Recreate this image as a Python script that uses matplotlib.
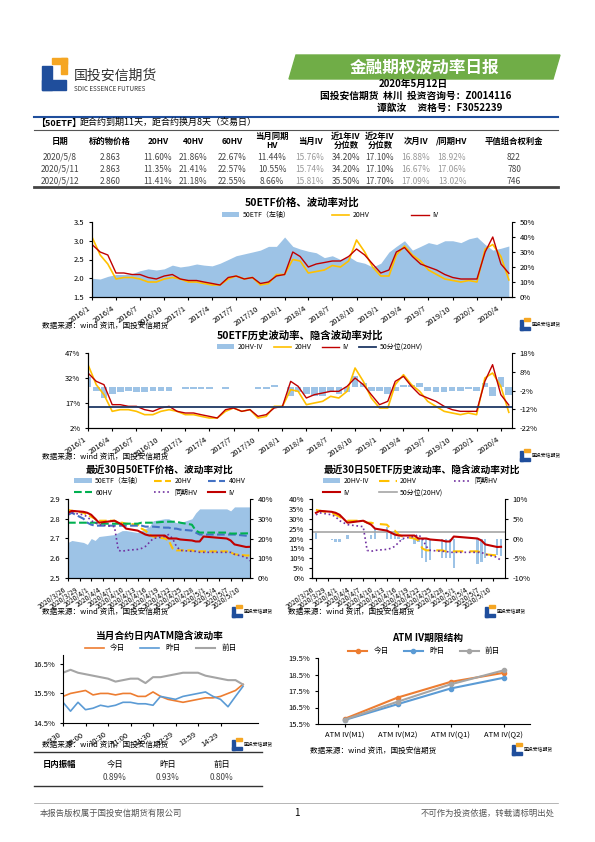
import matplotlib
matplotlib.use("Agg")
import matplotlib.pyplot as plt
from matplotlib.patches import Polygon, Rectangle
import numpy as np
import pandas as pd

plt.rcParams['font.family'] = ['Noto Sans CJK SC', 'DejaVu Sans']
plt.rcParams['axes.unicode_minus'] = False

# ---------------- data ----------------
months = pd.date_range("2016-01-01", "2020-05-01", freq="MS")
etf_price = [2.0,1.98,2.05,2.1,2.1,2.12,2.2,2.25,2.22,2.25,2.35,2.30,
             2.33,2.38,2.35,2.33,2.4,2.5,2.6,2.65,2.7,2.75,2.85,2.85,
             3.1,2.85,2.78,2.72,2.68,2.55,2.6,2.5,2.58,2.45,2.4,2.3,
             2.4,2.7,2.85,3.0,2.75,2.85,2.95,2.9,3.0,3.0,2.95,3.05,
             3.1,2.9,2.75,2.8,2.86]
hv20_long = [40,28,22,12,13,13,12,10,10,12,13,12,
             10,10,9,8,8,12,14,12,13,8,9,15,
             15,25,24,16,17,18,21,20,24,38,30,20,
             14,14,28,34,28,24,18,15,12,11,10,11,
             10,32,35,27,11.4]
iv_long = [35,30,28,16,16,15,15,13,12,14,15,12,
           11,11,10,9,8,13,14,12,13,9,10,14,
           15,30,27,20,22,23,24,24,27,32,28,22,
           16,18,30,33,27,22,20,18,15,13,12,12,
           12,30,40,22,15.8]
hv20_p50 = 14.8

days = pd.to_datetime(["2020-03-26","2020-03-27","2020-03-30","2020-03-31","2020-04-01","2020-04-02",
        "2020-04-03","2020-04-07","2020-04-08","2020-04-09","2020-04-10","2020-04-13","2020-04-14",
        "2020-04-15","2020-04-16","2020-04-17","2020-04-20","2020-04-21","2020-04-22","2020-04-23",
        "2020-04-24","2020-04-27","2020-04-28","2020-04-29","2020-04-30","2020-05-06","2020-05-07",
        "2020-05-08","2020-05-11","2020-05-12"])
price30 = [2.68,2.69,2.68,2.67,2.70,2.69,2.71,2.72,2.73,2.74,2.74,2.73,2.74,2.75,2.76,2.79,2.80,2.80,
           2.79,2.78,2.78,2.80,2.83,2.85,2.85,2.85,2.84,2.86,2.86,2.86]
iv30 = [33,34,33.5,33,32,30,28,29,28,27,25,24,23,22,21.5,21.5,21.5,20,20,20,19.5,19,18.5,18.5,21,20,
        19,17,15.7,15.8]
hv20_30 = [34.5,34,33,32,31,30,29,29,28,28,27.5,27,25,24,22,21,20,19,15,14,14,14,13.5,13.5,13.5,13.5,
           13,12,11.4,11.4]
hv40_30 = [32,33,30,28,27,26.5,26.5,26.5,26.5,26.5,26.5,26.5,26.5,26,26,26,25.5,25.5,25,25,24.5,24,
           23,22,22,22,22,22,21.4,21.2]
hv60_30 = [28,28,28,28,28,28,27.5,27.5,27.5,27.5,27.5,27.5,28,28,28,28,28.5,28.5,28.5,28.5,28,27,24,
           23,23,23,22.5,22.5,22.6,22.6]
same_hv30 = [32,33,32,31,29,28,27,26,14,13.5,14,14.5,15,16,18,20,21,22,20,16,14,13.5,13.5,13,13,13,
             13,12,10.5,8.7]
p50_30 = 1.6

intraday_labels = ["9:30","10:00","10:30","11:00","11:30","13:29","13:59","14:29"]
today_iv = [15.4,15.5,15.55,15.6,15.45,15.5,15.5,15.45,15.5,15.5,15.4,15.4,15.55,15.4,15.3,15.25,15.2,
            15.25,15.3,15.35,15.35,15.4,15.5,15.6,15.81]
yest_iv = [15.2,14.9,15.2,14.95,15.0,15.1,15.05,15.1,15.2,15.2,15.15,15.15,15.1,15.4,15.35,15.3,15.4,
           15.45,15.5,15.55,15.4,15.3,15.05,15.4,15.74]
prev_iv = [16.2,16.3,16.2,16.15,16.1,16.05,16.0,15.9,15.95,16.0,16.0,15.85,16.05,16.05,16.1,16.15,16.2,
           16.2,16.2,16.1,16.05,16.0,15.95,15.95,15.8]

term_labels = ["ATM IV(M1)","ATM IV(M2)","ATM IV(Q1)","ATM IV(Q2)"]
term_today = [15.81,17.1,18.05,18.6]
term_yest = [15.74,16.7,17.65,18.3]
term_prev = [15.76,16.85,17.9,18.75]

table_cols = ["日期","标的物价格","20HV","40HV","60HV","当月同期\nHV","当月IV","近1年IV\n分位数",
              "近2年IV\n分位数","次月IV","/同期HV","平值组合权利金"]
table_rows = [["2020/5/8","2.863","11.60%","21.86%","22.67%","11.44%","15.76%","34.20%","17.10%","16.88%","18.92%","822"],
              ["2020/5/11","2.863","11.35%","21.41%","22.57%","10.55%","15.74%","34.20%","17.10%","16.67%","17.06%","780"],
              ["2020/5/12","2.860","11.41%","21.18%","22.55%","8.66%","15.81%","35.50%","17.70%","17.09%","13.02%","746"]]
amp_labels = ["日内振幅","今日","昨日","前日"]
amp_vals = ["0.89%","0.93%","0.80%"]

# ---------------- layout ----------------
W, H = 595, 842
fig = plt.figure(figsize=(W/100, H/100), dpi=100)

def axp(x0, y0, x1, y1):
    return fig.add_axes([x0/W, 1-y1/H, (x1-x0)/W, (y1-y0)/H])

def T(x, y, s, **kw):
    fig.text(x/W, 1-y/H, s, **kw)

BLUE = "#9DC3E6"; ORANGE = "#FFC000"; RED = "#C00000"

ov = fig.add_axes([0, 0, 1, 1]); ov.set_xlim(0, W); ov.set_ylim(H, 0); ov.axis("off")
ov.add_patch(Rectangle((42, 66), 10, 24, color="#1F4E9C"))
ov.add_patch(Rectangle((42, 80), 24, 10, color="#1F4E9C"))
ov.add_patch(Rectangle((52, 58), 15, 6, color="#F5A623"))
ov.add_patch(Rectangle((61, 58), 6, 16, color="#F5A623"))
T(74, 76, "国投安信期货", fontsize=10, va="center", color="#333")
T(74, 89, "SDIC ESSENCE FUTURES", fontsize=4.5, va="center", color="#333")
ov.add_patch(Polygon([[296, 55], [560, 55], [553, 79], [289, 79]], color="#70AD47"))
T(424, 67, "金融期权波动率日报", fontsize=12, color="white", ha="center", va="center", fontweight="bold")
T(413, 84, "2020年5月12日", fontsize=7, ha="center", va="center", fontweight="bold")
T(416, 96, "国投安信期货  林川  投资咨询号：Z0014116", fontsize=7, ha="center", va="center", fontweight="bold")
T(440, 108, "谭歆汝     资格号：F3052239", fontsize=7, ha="center", va="center", fontweight="bold")
ov.plot([34, 558], [117, 117], color="#1F4E9C", lw=1.5)
T(36, 123, "【50ETF】", fontsize=6.5, va="center", fontweight="bold")
T(80, 122, "距合约到期11天，距合约换月8天（交易日）", fontsize=6.5, va="center")
ov.plot([34, 558], [130, 130], color="#555", lw=0.8)
colx = [60, 110, 158, 193, 232, 272, 310, 346, 380, 416, 452, 514]
for x, c in zip(colx, table_cols):
    T(x, 141, c, fontsize=6, ha="center", va="center", fontweight="bold", linespacing=1.1)
for r, row in enumerate(table_rows):
    for i, (x, v) in enumerate(zip(colx, row)):
        T(x, 157 + 12*r, v, fontsize=6, ha="center", va="center",
          color="#999" if i in (6, 9, 10) else "#444")
ov.plot([34, 558], [187, 187], color="#444", lw=2)

def style(ax):
    for s in ["top", "right"]:
        ax.spines[s].set_visible(False)
    ax.tick_params(labelsize=5.5, length=2)

def src(x, y):
    T(x, y, "数据来源：wind 资讯，国投安信期货", fontsize=5.5, va="center")

def logo(x, y):
    ov.add_patch(Rectangle((x, y), 3, 10, color="#1F4E9C"))
    ov.add_patch(Rectangle((x, y+7), 10, 3, color="#1F4E9C"))
    ov.add_patch(Rectangle((x+4, y-2), 6, 3, color="#F5A623"))
    T(x+12, y+5, "国投安信期货", fontsize=3.5, va="center")

# chart 1
T(302, 203, "50ETF价格、波动率对比", fontsize=7.5, ha="center", va="center", fontweight="bold")
ax = axp(92, 222, 512, 297); style(ax)
ax.fill_between(months, etf_price, 1.5, color=BLUE, lw=0, label="50ETF（左轴）")
ax.set_ylim(1.5, 3.5); ax.set_yticks([1.5, 2.0, 2.5, 3.0, 3.5])
ax.set_xlim(months[0], months[-1] + pd.Timedelta(days=12))
ax2 = ax.twinx(); style(ax2); ax2.spines["right"].set_visible(True)
ax2.plot(months, hv20_long, color=ORANGE, lw=1.2, label="20HV")
ax2.plot(months, iv_long, color=RED, lw=1, label="IV")
ax2.set_ylim(0, 50); ax2.set_yticks(range(0, 51, 10)); ax2.set_yticklabels([f"{v}%" for v in range(0, 51, 10)])
xt = pd.date_range("2016-01-01", "2020-04-01", freq="3MS")
ax.set_xticks(xt); ax.set_xticklabels([f"{d.year}/{d.month}" for d in xt], rotation=35, ha="right", fontsize=5.5)
h1, l1 = ax.get_legend_handles_labels(); h2, l2 = ax2.get_legend_handles_labels()
fig.legend(h1+h2, l1+l2, loc="center", bbox_to_anchor=(330/W, 1-215/H), ncol=3, fontsize=5, frameon=False,
           handlelength=2.5, columnspacing=6, handletextpad=0.5)
src(42, 326); logo(520, 320)

# chart 2
T(300, 336, "50ETF历史波动率、隐含波动率对比", fontsize=7.5, ha="center", va="center", fontweight="bold")
ax = axp(88, 353, 512, 428); style(ax)
diff_long = np.array(hv20_long) - np.array(iv_long)
axb = ax.twinx(); style(axb); axb.spines["right"].set_visible(True)
axb.bar(months, diff_long, width=25, color=BLUE, label="20HV-IV")
axb.set_ylim(-22, 18); axb.set_yticks(range(-22, 19, 10)); axb.set_yticklabels([f"{v}%" for v in range(-22, 19, 10)])
ax.set_zorder(axb.get_zorder()+1); ax.patch.set_visible(False)
ax.plot(months, hv20_long, color=ORANGE, lw=1.2, label="20HV")
ax.plot(months, iv_long, color=RED, lw=1, label="IV")
ax.axhline(hv20_p50, color="#1F3864", lw=1.3, label="50分位(20HV)")
ax.set_ylim(2, 47); ax.set_yticks([2, 17, 32, 47]); ax.set_yticklabels(["2%", "17%", "32%", "47%"])
ax.set_xlim(months[0], months[-1] + pd.Timedelta(days=12))
ax.set_xticks(xt); ax.set_xticklabels([f"{d.year}/{d.month}" for d in xt], rotation=35, ha="right", fontsize=5.5)
h1, l1 = axb.get_legend_handles_labels(); h2, l2 = ax.get_legend_handles_labels()
fig.legend(h1+h2, l1+l2, loc="center", bbox_to_anchor=(320/W, 1-347/H), ncol=4, fontsize=5, frameon=False,
           handlelength=2.5, columnspacing=1.5, handletextpad=0.5)
src(42, 457); logo(520, 451)

tick30 = pd.date_range("2020-03-26", "2020-05-10", freq="3D")
tlab30 = [f"{d.year}/{d.month}/{d.day}" for d in tick30]

# chart 3
T(160, 470, "最近30日50ETF价格、波动率对比", fontsize=7, ha="center", va="center", fontweight="bold")
ax = axp(68, 499, 250, 578); style(ax)
ax.fill_between(days, price30, 2.5, color=BLUE, lw=0, label="50ETF（左轴）")
ax.set_ylim(2.5, 2.9); ax.set_yticks([2.5, 2.6, 2.7, 2.8, 2.9])
ax.set_xlim(days[0], days[-1])
ax2 = ax.twinx(); style(ax2); ax2.spines["right"].set_visible(True)
ax2.plot(days, hv20_30, color=ORANGE, lw=1.5, ls="--", label="20HV")
ax2.plot(days, hv40_30, color="#4472C4", lw=1.5, ls="--", label="40HV")
ax2.plot(days, hv60_30, color="#00B050", lw=1.5, ls="--", label="60HV")
ax2.plot(days, same_hv30, color="#7030A0", lw=1.2, ls=":", label="同期HV")
ax2.plot(days, iv30, color=RED, lw=1.5, label="IV")
ax2.set_ylim(0, 40); ax2.set_yticks(range(0, 41, 10)); ax2.set_yticklabels([f"{v}%" for v in range(0, 41, 10)])
ax.set_xticks(tick30); ax.set_xticklabels(tlab30, rotation=35, ha="right", fontsize=5)
h1, l1 = ax.get_legend_handles_labels(); h2, l2 = ax2.get_legend_handles_labels()
hh = h1+h2; ll = l1+l2; order = [0, 3, 1, 4, 2, 5]
fig.legend([hh[i] for i in order], [ll[i] for i in order], loc="center", bbox_to_anchor=(160/W, 1-487/H),
           ncol=3, fontsize=5, frameon=False, handlelength=2.5, columnspacing=1.5, handletextpad=0.5)
src(42, 612); logo(232, 607)

# chart 4
T(422, 470, "最近30日50ETF历史波动率、隐含波动率对比", fontsize=7, ha="center", va="center", fontweight="bold")
ax = axp(312, 499, 505, 578); style(ax)
diff30 = np.array(hv20_30) - np.array(iv30)
axb = ax.twinx(); style(axb); axb.spines["right"].set_visible(True)
axb.bar(days, diff30, width=0.6, color=BLUE, label="20HV-IV")
axb.axhline(p50_30, color="#A6A6A6", lw=1.2, label="50分位(20HV)")
axb.set_ylim(-10, 10); axb.set_yticks(range(-10, 11, 5)); axb.set_yticklabels([f"{v}%" for v in range(-10, 11, 5)])
ax.set_zorder(axb.get_zorder()+1); ax.patch.set_visible(False)
ax.plot(days, hv20_30, color=ORANGE, lw=1.5, ls=(0, (5, 3)), label="20HV")
ax.plot(days, same_hv30, color="#7030A0", lw=1.2, ls=":", label="同期HV")
ax.plot(days, iv30, color=RED, lw=1.5, label="IV")
ax.set_ylim(0, 40); ax.set_yticks(range(0, 41, 5)); ax.set_yticklabels([f"{v}%" for v in range(0, 41, 5)])
ax.set_xlim(days[0] - pd.Timedelta(days=1), days[-1] + pd.Timedelta(days=1))
ax.set_xticks(tick30); ax.set_xticklabels(tlab30, rotation=35, ha="right", fontsize=5)
h1, l1 = axb.get_legend_handles_labels(); h2, l2 = ax.get_legend_handles_labels()
hh = h1+h2; ll = l1+l2
idx = {l: i for i, l in enumerate(ll)}
order = [idx[k] for k in ["20HV-IV", "IV", "20HV", "50分位(20HV)", "同期HV"]]
fig.legend([hh[i] for i in order], [ll[i] for i in order], loc="center", bbox_to_anchor=(410/W, 1-487/H),
           ncol=3, fontsize=5, frameon=False, handlelength=2.5, columnspacing=1.5, handletextpad=0.5)
src(288, 612); logo(485, 607)

# chart 5
T(160, 636, "当月合约日内ATM隐含波动率", fontsize=7, ha="center", va="center", fontweight="bold")
ax = axp(63, 655, 258, 723); style(ax)
xi = np.arange(len(today_iv))
ax.plot(xi, today_iv, color="#ED7D31", lw=1.2, label="今日")
ax.plot(xi, yest_iv, color="#5B9BD5", lw=1.2, label="昨日")
ax.plot(xi, prev_iv, color="#A5A5A5", lw=1.5, label="前日")
ax.set_ylim(14.5, 16.8); ax.set_yticks([14.5, 15.5, 16.5]); ax.set_yticklabels(["14.5%", "15.5%", "16.5%"])
ax.set_xlim(0, len(xi) + 1)
ax.set_xticks(np.linspace(0, 21, 8)); ax.set_xticklabels(intraday_labels, rotation=35, ha="right", fontsize=5.5)
ax.legend(loc="center", bbox_to_anchor=(0.5, 1.1), ncol=3, fontsize=5.5, frameon=False, handlelength=2.5)
src(42, 745); logo(232, 740)
ov.plot([34, 262], [752, 752], color="#333", lw=1)
for x, s in zip([60, 115, 168, 222], amp_labels):
    T(x, 764, s, fontsize=6, ha="center", va="center", fontweight="bold" if s == "日内振幅" else None)
for x, s in zip([115, 168, 222], amp_vals):
    T(x, 777, s, fontsize=6, ha="center", va="center", color="#444")
ov.plot([34, 262], [786, 786], color="#333", lw=1)

# chart 6
T(428, 638, "ATM IV期限结构", fontsize=7, ha="center", va="center", fontweight="bold")
ax = axp(318, 658, 530, 724); style(ax)
xt6 = np.arange(4)
ax.plot(xt6, term_today, color="#ED7D31", lw=1.5, marker="o", ms=3, label="今日")
ax.plot(xt6, term_yest, color="#5B9BD5", lw=1.5, marker="o", ms=3, label="昨日")
ax.plot(xt6, term_prev, color="#A5A5A5", lw=1.5, marker="o", ms=3, label="前日")
ax.set_ylim(15.5, 19.5); ax.set_yticks([15.5, 16.5, 17.5, 18.5, 19.5])
ax.set_yticklabels(["15.5%", "16.5%", "17.5%", "18.5%", "19.5%"])
ax.set_xlim(-0.5, 3.5); ax.set_xticks(xt6); ax.set_xticklabels(term_labels, fontsize=5.5)
ax.legend(loc="center", bbox_to_anchor=(0.5, 1.1), ncol=3, fontsize=5.5, frameon=False, handlelength=2.5)
src(310, 751); logo(512, 745)

# footer
ov.plot([34, 558], [803, 803], color="#999", lw=0.5)
T(40, 813, "本报告版权属于国投安信期货有限公司", fontsize=6, va="center", color="#555", style="italic")
T(297, 813, "1", fontsize=7, ha="center", va="center")
T(555, 813, "不可作为投资依据，转载请标明出处", fontsize=6, ha="right", va="center", color="#555")

fig.savefig("out.png", dpi=100)
